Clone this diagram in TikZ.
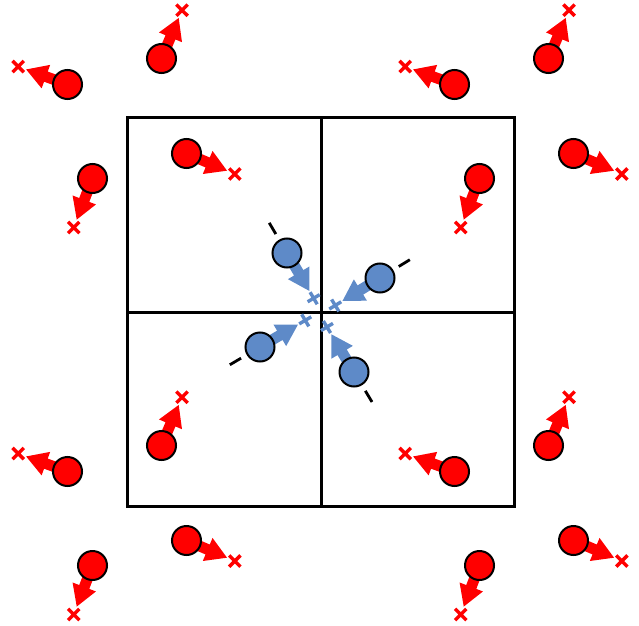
\documentclass[tikz,border=0pt]{standalone}
\definecolor{dred}{RGB}{255,0,0}
\definecolor{dblue}{RGB}{94,138,200}
\tikzset{
  ball/.style={circle, draw=black, line width=2pt, minimum size=29pt, inner sep=0pt},
  cellline/.style={draw=black, line width=3pt},
  crossmark/.style={line width=3.4pt},
  minusmark/.style={draw=black, line width=2.8pt}
}
% #1 name, #2 x, #3 y (image), #4 angle, #5 colour, #6 minus (1/0), #7 extra cross rotation, #8 half arm
\newcommand{\dipole}[8]{%
  \begin{scope}[shift={({#2},{625-(#3)})}, rotate=#4]
    \fill[#5] (0,-5.4) -- (23,-5.4) -- (23,-12.5) -- (44,0) -- (23,12.5) -- (23,5.4) -- (0,5.4) -- cycle;
    \draw[#5, crossmark, rotate around={#7:(52.5,0)}] (52.5-#8,0) -- (52.5+#8,0) (52.5,-#8) -- (52.5,#8);
    \node[ball, fill=#5] (#1) at (0,0) {};
    \ifnum#6=1 \draw[minusmark] (-22,0) -- (-35,0);\fi
  \end{scope}}
\begin{document}
\begin{tikzpicture}[x=1pt,y=1pt]
\useasboundingbox (0,0) rectangle (639,625);
% unit cell
\draw[cellline] (127,625-118) rectangle (514.5,625-506);
\draw[cellline] (321,625-118) -- (321,625-506);
\draw[cellline] (127,625-312) -- (514.5,625-312);
% red dipoles
\foreach \dx/\dy [count=\i] in {0/0, 387/0, 0/387, 387/387}{
  \dipole{ra\i}{67.5+\dx}{84.5+\dy}{160}{dred}{0}{-115}{8}
  \dipole{rb\i}{161.5+\dx}{58.5+\dy}{67}{dred}{0}{-22}{8}
  \dipole{rc\i}{186.5+\dx}{153.5+\dy}{-23}{dred}{0}{68}{8}
  \dipole{rd\i}{92.5+\dx}{178.5+\dy}{-111}{dred}{0}{156}{8}
}
% blue dipoles
\dipole{b1}{287}{253}{-59.5}{dblue}{1}{0}{7}
\dipole{b2}{380}{278}{211.5}{dblue}{1}{0}{7}
\dipole{b3}{260}{347}{30.5}{dblue}{1}{0}{7}
\dipole{b4}{354}{372}{121}{dblue}{1}{0}{7}
\end{tikzpicture}
\end{document}
